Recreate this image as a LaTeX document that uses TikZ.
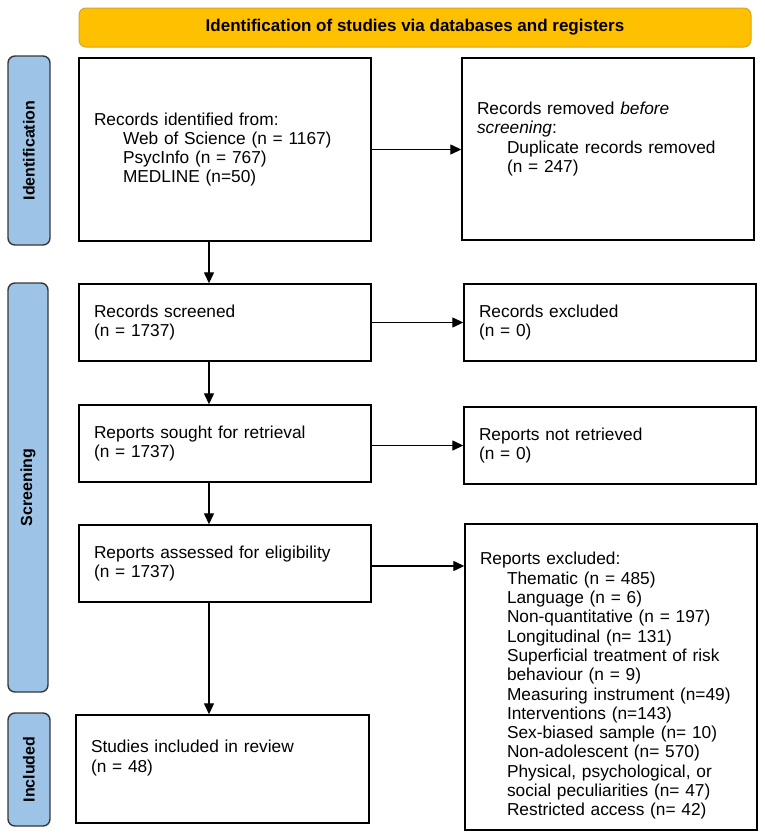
\documentclass[tikz,border=0pt]{standalone}
\usepackage{fontspec}
\setmainfont{Liberation Sans}
\usetikzlibrary{arrows.meta}
\definecolor{titlefill}{RGB}{255,192,0}
\definecolor{titleline}{RGB}{214,165,40}
\definecolor{sidefill}{RGB}{157,195,230}
\definecolor{sideline}{RGB}{55,55,55}
\newcommand\indA{\hspace*{29pt}}
\newcommand\indH{\hspace*{27pt}}
\begin{document}
\begin{tikzpicture}[x=1pt,y=-1pt,
  box/.style={draw=black, line width=1.4pt, fill=white, inner xsep=15pt, inner ysep=0pt,
    align=left, font=\fontsize{17.3}{19.3}\selectfont},
  sidebar/.style={draw=sideline, line width=1.4pt, fill=sidefill, rounded corners=7pt,
    inner sep=0pt, font=\fontsize{16}{18}\selectfont\bfseries},
  titlebar/.style={draw=titleline, line width=1pt, fill=titlefill, rounded corners=7pt,
    inner sep=0pt, font=\fontsize{17}{19}\selectfont\bfseries},
  arr/.style={line width=1.3pt, -{Triangle[length=11pt,width=10pt]}}
]
\useasboundingbox (0,0) rectangle (765,838);

% title
\node[titlebar, minimum width=672pt, minimum height=39pt] (title) at (415,27.5)
  {Identification of studies via databases and registers};

% side bars
\node[sidebar, minimum width=42pt, minimum height=189pt] (sideid) at (29,150.5)
  {\rotatebox{90}{Identification}};
\node[sidebar, minimum width=40pt, minimum height=409pt] (sidescr) at (28,487.5)
  {\rotatebox{90}{Screening}};
\node[sidebar, minimum width=42pt, minimum height=113pt] (sideinc) at (29,769.5)
  {\rotatebox{90}{Included}};

% boxes
\node[box, text width=262pt, minimum height=183pt] (A) at (225,149.5)
  {Records identified from:\\
   \indA Web of Science (n = 1167)\\
   \indA PsycInfo (n = 767)\\
   \indA MEDLINE (n=50)};
\node[box, text width=262pt, minimum height=182pt] (B) at (608,149)
  {Records removed \textit{before}\\
   \textit{screening}:\\
   \hspace*{30pt}Duplicate records removed\\
   \hspace*{30pt}(n = 247)\rule[-23.6pt]{0pt}{0pt}};

\node[box, text width=262pt, minimum height=77pt] (C) at (225,322.5)
  {Records screened\\(n = 1737)};
\node[box, text width=262pt, minimum height=77pt] (D) at (610,322.5)
  {Records excluded\\(n = 0)};

\node[box, text width=262pt, minimum height=77pt] (E) at (225,443.5)
  {Reports sought for retrieval\\(n = 1737)};
\node[box, text width=262pt, minimum height=77pt] (F) at (610,445.5)
  {Reports not retrieved\\(n = 0)};

\node[box, text width=262pt, minimum height=77pt] (G) at (225,563.5)
  {Reports assessed for eligibility\\(n = 1737)};
\node[box, text width=262pt, minimum height=306pt] (H) at (611,677)
  {\rule{0pt}{30.4pt}Reports excluded:\\
   \indH Thematic (n = 485)\\
   \indH Language (n = 6)\\
   \indH Non-quantitative (n = 197)\\
   \indH Longitudinal (n= 131)\\
   \indH Superficial treatment of risk\\
   \indH behaviour (n = 9)\\
   \indH Measuring instrument (n=49)\\
   \indH Interventions (n=143)\\
   \indH Sex-biased sample (n= 10)\\
   \indH Non-adolescent (n= 570)\\
   \indH Physical, psychological, or\\
   \indH social peculiarities (n= 47)\\
   \indH Restricted access (n= 42)};

\node[box, text width=263pt, minimum height=108pt] (I) at (222.5,769)
  {Studies included in review\\(n = 48)\rule[-25.6pt]{0pt}{0pt}};

% connectors
\coordinate (xd) at (209,0);
\draw[arr] (A.east) -- (A.east -| B.west);
\draw[arr] (C.east) -- (C.east -| D.west);
\draw[arr] (E.east |- F.west) -- (F.west);
\draw[arr] (G.east |- 0,566) -- (G.east |- 0,566 -| H.west);
\draw[arr] (A.south -| xd) -- (C.north -| xd);
\draw[arr] (C.south -| xd) -- (E.north -| xd);
\draw[arr] (E.south -| xd) -- (G.north -| xd);
\draw[arr] (G.south -| xd) -- (I.north -| xd);
\end{tikzpicture}
\end{document}
